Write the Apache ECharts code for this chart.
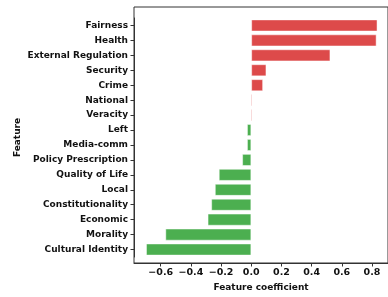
<!DOCTYPE html>
<html>
<head>
<meta charset="utf-8">
<script src="https://cdn.jsdelivr.net/npm/echarts@6/dist/echarts.min.js"></script>
<style>
  html, body { margin: 0; padding: 0; background: #fff; }
  #chart { width: 388px; height: 297px; }
</style>
</head>
<body>
<div id="chart"></div>
<script>
// categories top to bottom
const features = [
    'Fairness', 'Health', 'External Regulation', 'Security', 'Crime',
    'National', 'Veracity', 'Left', 'Media-comm', 'Policy Prescription',
    'Quality of Life', 'Local', 'Constitutionality', 'Economic', 'Morality',
    'Cultural Identity',
];
const coefficients = [
    0.836, 0.830, 0.524, 0.100, 0.078,
    0.005, 0.004, -0.028, -0.028, -0.060,
    -0.215, -0.241, -0.265, -0.289, -0.569,
    -0.697,
];
const xTicks = [-0.6, -0.4, -0.2, 0.0, 0.2, 0.4, 0.6, 0.8];

const POS = '#dd4a4a';
const NEG = '#4caf50';
const font = 'DejaVu Sans';
const lineCol = '#333';

const chart = echarts.init(document.getElementById('chart'), null, { renderer: 'canvas' });

const xMin = -0.777;
const xMax = 0.906;

chart.setOption({
    animation: false,
    grid: [
        // bars
        { left: 134, right: -4, top: 18, bottom: 40, show: false },
        // frame
        { left: 134, right: -4, top: 7, bottom: 31, show: true, borderColor: lineCol, borderWidth: 1, z: 0 },
    ],
    xAxis: [
        {
            gridIndex: 0,
            type: 'value',
            min: xMin,
            max: xMax,
            axisLine: { show: false },
            axisTick: { show: false },
            axisLabel: { show: false },
            splitLine: { show: false },
        },
        {
            gridIndex: 1,
            type: 'value',
            min: xMin,
            max: xMax,
            name: 'Feature coefficient',
            nameLocation: 'middle',
            nameGap: 20,
            nameTextStyle: { fontFamily: font, fontWeight: 'bold', fontSize: 9, color: '#111' },
            axisLine: { show: true, onZero: false, lineStyle: { color: lineCol } },
            axisTick: { show: true, length: 3.5, lineStyle: { color: lineCol }, customValues: xTicks },
            axisLabel: {
                margin: 5,
                fontFamily: font, fontWeight: 'bold', fontSize: 9.5, color: '#111',
                customValues: xTicks,
                formatter: v => (v < 0 ? '\u2212' : '') + Math.abs(v).toFixed(1),
            },
            splitLine: { show: false },
        },
    ],
    yAxis: [
        {
            gridIndex: 0,
            type: 'category',
            inverse: true,
            data: features,
            axisLine: { show: true, onZero: false, lineStyle: { color: lineCol } },
            axisTick: { show: true, alignWithLabel: true, length: 3.5, lineStyle: { color: lineCol } },
            axisLabel: { margin: 6, fontFamily: font, fontWeight: 'bold', fontSize: 9, color: '#111' },
            name: 'Feature',
            nameLocation: 'middle',
            nameRotate: 90,
            nameGap: 112,
            nameMoveOverlap: false,
            nameTextStyle: { fontFamily: font, fontWeight: 'bold', fontSize: 9, color: '#111' },
        },
        {
            gridIndex: 1,
            type: 'value',
            axisLine: { show: false },
            axisTick: { show: false },
            axisLabel: { show: false },
            splitLine: { show: false },
        },
    ],
    series: [
        {
            type: 'bar',
            xAxisIndex: 0,
            yAxisIndex: 0,
            barWidth: '80%',
            barMinHeight: 1,
            data: coefficients.map(v => ({
                value: v,
                itemStyle: {
                    color: v >= 0 ? POS : NEG,
                    borderColor: Math.abs(v) < 0.01 ? 'transparent' : 'rgba(255,255,255,0.6)',
                    borderWidth: 0.8,
                },
            })),
        },
    ],
});
</script>
</body>
</html>
